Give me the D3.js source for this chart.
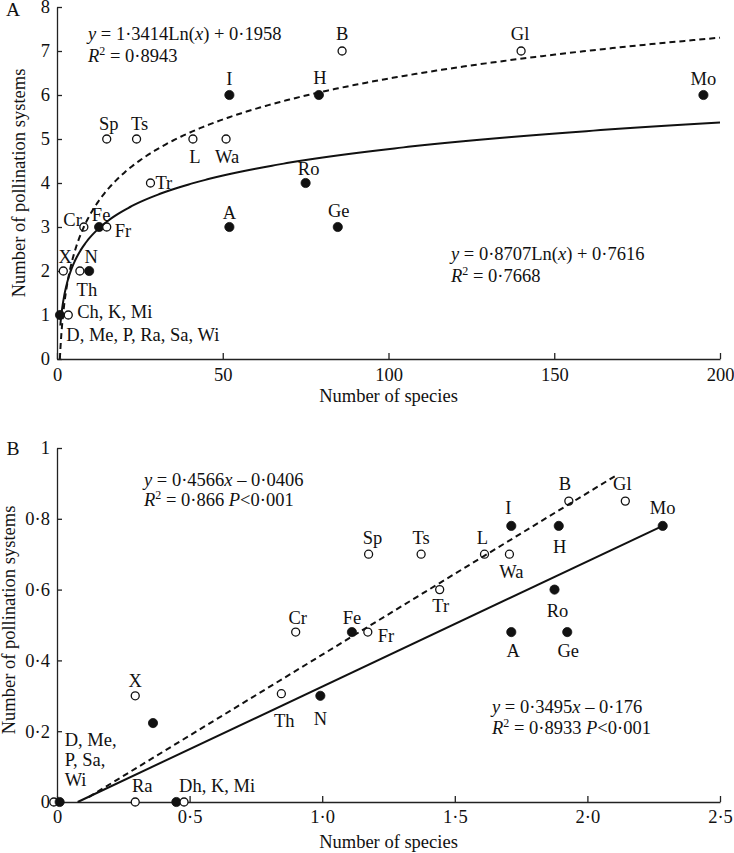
<!DOCTYPE html>
<html>
<head>
<meta charset="utf-8">
<script src="https://cdn.jsdelivr.net/npm/d3@7"></script>
<style>
  html, body { margin: 0; padding: 0; background: #fff; }
  svg { display: block; }
  text { font-family: "Liberation Serif", "Times New Roman", serif; fill: #111; }
</style>
</head>
<body>
<script>
// ---------------- DATA ----------------
// Panel A
const namesA  = ["I","B","Gl","H","Mo","Sp","Ts","L","Wa","Tr","Ro","A","Ge","Cr","Fe","Fr","X","N","Th","","Ch, K, Mi"];
const speciesA = [52,86,140,79,195,15,24,41,51,28.2,75,52,84.7,8.1,12.7,15,1.9,9.7,6.9,0.9,3.4];
const systemsA = [6,7,7,6,6,5,5,5,5,4,4,3,3,3,3,3,2,2,2,1,1];
const filledA  = [1,0,0,1,1,0,0,0,0,0,1,1,1,0,1,0,0,1,0,1,0];
const extraLabelsA = ["D, Me, P, Ra, Sa, Wi"];
const xTicksA = [0,50,100,150,200];
const yTicksA = [0,1,2,3,4,5,6,7,8];
// log fits: y = a ln(x) + b ; [a, b, xStart, xEnd]
const fitDashedA = [1.3414, 0.1958, 0.864, 200];
const fitSolidA  = [0.8707, 0.7616, 1, 200];

// Panel B
const namesB  = ["B","Gl","I","H","Mo","Sp","Ts","L","Wa","Tr","Ro","Cr","Fe","Fr","A","Ge","Th","N","X","","Ra","","Dh, K, Mi","",""];
const speciesB = [1.93,2.143,1.713,1.892,2.284,1.175,1.373,1.612,1.706,1.443,1.876,0.9,1.112,1.172,1.713,1.924,0.846,0.993,0.295,0.362,0.295,0.45,0.479,-0.012,0.01];
const systemsB = [0.85,0.85,0.78,0.78,0.78,0.70,0.70,0.70,0.70,0.60,0.60,0.48,0.48,0.48,0.48,0.48,0.306,0.30,0.30,0.223,0,0,0,0,0];
const filledB  = [0,0,1,1,1,0,0,0,0,0,1,0,1,0,1,1,0,1,0,1,0,1,0,0,1];
const extraLabelsB = ["D, Me,","P, Sa,","Wi"];
const xTicksB = [0,0.5,1,1.5,2,2.5];
const yTicksB = [0,0.2,0.4,0.6,0.8,1];
// straight fit lines as drawn: [[x0,y0],[x1,y1]]
const lineDashedB = [[0.12,0.014],[2.116,0.926]];
const lineSolidB  = [[0.078,0],[2.284,0.78]];

// ---------------- LAYOUT ----------------
// label offsets (px) relative to each point: [dx, dy(center), anchor]
const labelPosA = [
  [0,-16,"middle"],[0,-17,"middle"],[-1,-17,"middle"],[1,-17,"middle"],[0,-16,"middle"],
  [2,-15,"middle"],[3,-15,"middle"],[2,18,"middle"],[1,18,"middle"],[5,0,"start"],
  [3,-14,"middle"],[0,-14,"middle"],[1,-16,"middle"],[-2,-7,"end"],[2,-12,"middle"],
  [8,4,"start"],[2,-14,"middle"],[2,-14,"middle"],[7,19,"middle"],[0,0,"middle"],[9,-3,"start"]
];
const extraPosA = [[20,-2,20,"start"]]; // [pointIndex, dx, dy, anchor]
const labelPosB = [
  [-4,-18,"middle"],[-3,-18,"middle"],[-3,-18,"middle"],[1,21,"middle"],[0,-18,"middle"],
  [4,-17,"middle"],[0,-17,"middle"],[-2,-17,"middle"],[2,17,"middle"],[1,16,"middle"],
  [3,21,"middle"],[2,-15,"middle"],[0,-15,"middle"],[10,3,"start"],[2,18,"middle"],
  [1,18,"middle"],[3,27,"middle"],[0,23,"middle"],[0,-15,"middle"],[0,0,"middle"],
  [7,-16,"middle"],[0,0,"middle"],[-5,-16,"start"],[0,0,"middle"],[0,0,"middle"]
];
const extraPosB = [[24,5,-62,"start"],[24,5,-42,"start"],[24,5,-22,"start"]];

const W = 734, H = 853, FS = 18.5;
const svg = d3.select("body").append("svg").attr("width", W).attr("height", H);

const dot = s => s.replace(".", "·");

function drawPanel(o) {
  const g = svg.append("g");
  const x = d3.scaleLinear().domain(o.xDom).range(o.xRange);
  const y = d3.scaleLinear().domain(o.yDom).range(o.yRange);

  // axes
  const ax = g.append("g").attr("transform", `translate(0,${o.yRange[0]})`)
    .call(d3.axisBottom(x).tickValues(o.xTicks).tickFormat(o.xFmt)
      .tickSizeInner(-6).tickSizeOuter(0).tickPadding(o.xPad));
  const ay = g.append("g").attr("transform", `translate(${o.xRange[0]},0)`)
    .call(d3.axisLeft(y).tickValues(o.yTicks).tickFormat(o.yFmt)
      .tickSizeInner(-5).tickSizeOuter(0).tickPadding(7));
  [ax, ay].forEach(a => {
    a.selectAll("path, line").attr("stroke", "#222").attr("stroke-width", 1.3);
    a.selectAll("text").attr("font-family", "Liberation Serif").attr("font-size", FS).attr("fill", "#111");
  });

  // axis titles
  g.append("text").attr("x", (o.xRange[0] + o.xRange[1]) / 2 - 0).attr("y", o.xTitleY)
    .attr("text-anchor", "middle").attr("font-size", FS).text("Number of species");
  g.append("text").attr("transform", `translate(${o.yTitleX},${o.yTitleCY}) rotate(-90)`)
    .attr("text-anchor", "middle").attr("font-size", FS).attr("dy", "0.35em")
    .text("Number of pollination systems");
  g.append("text").attr("x", o.panelX).attr("y", o.panelY).attr("font-size", FS + 1)
    .attr("dy", "0.35em").attr("text-anchor", "middle").text(o.panel);

  // points
  const pts = o.names.map((n, i) => ({ n, x: o.xs[i], y: o.ys[i], f: o.filled[i], i }));
  g.selectAll("circle.pt").data(pts).join("circle").attr("class", "pt")
    .attr("cx", d => x(d.x)).attr("cy", d => y(d.y))
    .attr("r", d => d.f ? 4.6 : 4)
    .attr("fill", d => d.f ? "#111" : "#fff")
    .attr("stroke", "#111").attr("stroke-width", d => d.f ? 0.8 : 1.3);

  // lines
  o.drawLines(g, x, y);

  // labels
  g.selectAll("text.lab").data(pts.filter(d => d.n)).join("text").attr("class", "lab")
    .attr("x", d => x(d.x) + o.labelPos[d.i][0])
    .attr("y", d => y(d.y) + o.labelPos[d.i][1])
    .attr("dy", "0.35em").attr("text-anchor", d => o.labelPos[d.i][2])
    .attr("font-size", FS).text(d => d.n);
  o.extra.forEach((t, k) => {
    const p = o.extraPos[k];
    g.append("text").attr("x", x(o.xs[p[0]]) + p[1]).attr("y", y(o.ys[p[0]]) + p[2])
      .attr("dy", "0.35em").attr("text-anchor", p[3]).attr("font-size", FS).text(t);
  });

  // equations
  o.eqs.forEach(e => {
    const t1 = g.append("text").attr("x", e.x).attr("y", e.y1).attr("font-size", FS);
    e.parts.forEach(p => t1.append("tspan").attr("font-style", p[1] ? "italic" : "normal").text(p[0]));
    const t2 = g.append("text").attr("x", e.x).attr("y", e.y2).attr("font-size", FS);
    t2.append("tspan").attr("font-style", "italic").text("R");
    t2.append("tspan").attr("font-size", 12).attr("dy", -7).text("2");
    t2.append("tspan").attr("dy", 7).text(" = " + e.r2);
    if (e.p) {
      t2.append("tspan").text(" ");
      t2.append("tspan").attr("font-style", "italic").text("P");
      t2.append("tspan").text("<0·001");
    }
  });
}

function logCurve(fit, x, y) {
  const [a, b, x0, x1] = fit;
  const xs = d3.range(0, 401).map(i => x0 * Math.pow(x1 / x0, i / 400));
  return d3.line().x(v => x(v)).y(v => y(a * Math.log(v) + b))(xs);
}

drawPanel({
  panel: "A", panelX: 13, panelY: 9,
  xDom: [0, 200], xRange: [57, 720], yDom: [0, 8], yRange: [359, 7],
  xTicks: xTicksA, yTicks: yTicksA,
  xFmt: d => String(d), yFmt: d => String(d), xPad: 9,
  xTitleY: 402, yTitleX: 19, yTitleCY: 183,
  names: namesA, xs: speciesA, ys: systemsA, filled: filledA,
  labelPos: labelPosA, extra: extraLabelsA, extraPos: extraPosA,
  drawLines: (g, x, y) => {
    g.append("path").attr("d", logCurve(fitDashedA, x, y)).attr("fill", "none")
      .attr("stroke", "#111").attr("stroke-width", 2).attr("stroke-dasharray", "6,4");
    g.append("path").attr("d", logCurve(fitSolidA, x, y)).attr("fill", "none")
      .attr("stroke", "#111").attr("stroke-width", 2);
  },
  eqs: [
    { x: 88, y1: 40, y2: 62, parts: [["y",1],[" = 1·3414Ln(",0],["x",1],[") + 0·1958",0]], r2: "0·8943" },
    { x: 451, y1: 260, y2: 282, parts: [["y",1],[" = 0·8707Ln(",0],["x",1],[") + 0·7616",0]], r2: "0·7668" }
  ]
});

drawPanel({
  panel: "B", panelX: 13, panelY: 448,
  xDom: [0, 2.5], xRange: [57, 720], yDom: [0, 1], yRange: [802, 448],
  xTicks: xTicksB, yTicks: yTicksB,
  xFmt: d => d === 0 ? "0" : dot(d3.format(".1f")(d)),
  yFmt: d => d === 0 ? "0" : (d === 1 ? "1" : dot(d3.format(".1f")(d))),
  xPad: 8,
  xTitleY: 848, yTitleX: 9, yTitleCY: 620,
  names: namesB, xs: speciesB, ys: systemsB, filled: filledB,
  labelPos: labelPosB, extra: extraLabelsB, extraPos: extraPosB,
  drawLines: (g, x, y) => {
    const ln = d3.line().x(d => x(d[0])).y(d => y(d[1]));
    g.append("path").attr("d", ln(lineDashedB)).attr("fill", "none")
      .attr("stroke", "#111").attr("stroke-width", 2).attr("stroke-dasharray", "6,4");
    g.append("path").attr("d", ln(lineSolidB)).attr("fill", "none")
      .attr("stroke", "#111").attr("stroke-width", 2);
  },
  eqs: [
    { x: 144, y1: 486, y2: 506, parts: [["y",1],[" = 0·4566",0],["x",1],[" – 0·0406",0]], r2: "0·866", p: true },
    { x: 492, y1: 713, y2: 734, parts: [["y",1],[" = 0·3495",0],["x",1],[" – 0·176",0]], r2: "0·8933", p: true }
  ]
});
</script>
</body>
</html>
